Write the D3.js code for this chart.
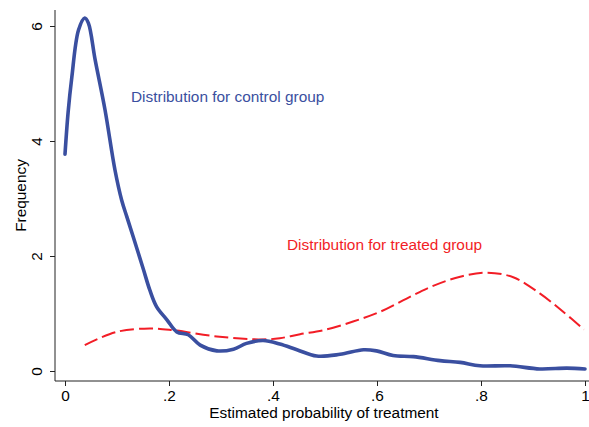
<!DOCTYPE html>
<html><head><meta charset="utf-8">
<script src="https://cdn.jsdelivr.net/npm/d3@7"></script>
<style>body{margin:0;background:#fff}svg{display:block}text{font-family:"Liberation Sans",Arial,sans-serif}</style>
</head><body>
<svg id="c" width="589" height="427"></svg>
<script>
const controlX = [0,0.006,0.013,0.026,0.038,0.045,0.058,0.077,0.096,0.109,0.119,0.131,0.151,0.163,0.176,0.196,0.215,0.237,0.26,0.292,0.324,0.349,0.381,0.413,0.446,0.484,0.529,0.574,0.599,0.631,0.67,0.721,0.76,0.798,0.856,0.913,0.965,1.0];
const controlY = [3.77,4.5,5.1,5.93,6.14,6.05,5.41,4.54,3.5,2.97,2.68,2.34,1.76,1.41,1.12,0.89,0.68,0.63,0.45,0.35,0.38,0.48,0.53,0.47,0.37,0.26,0.29,0.37,0.35,0.27,0.25,0.18,0.15,0.09,0.09,0.035,0.05,0.035];
const treatedX = [0.038,0.099,0.163,0.208,0.292,0.381,0.413,0.452,0.497,0.554,0.606,0.657,0.708,0.76,0.811,0.862,0.913,0.958,0.998];
const treatedY = [0.45,0.68,0.74,0.71,0.60,0.55,0.57,0.64,0.71,0.86,1.03,1.26,1.48,1.64,1.71,1.63,1.35,1.03,0.72];
const xTicks = [0,0.2,0.4,0.6,0.8,1];
const xTickLabels = ["0",".2",".4",".6",".8","1"];
const yTicks = [0,2,4,6];
const yTickLabels = ["0","2","4","6"];
const labels = {x:"Estimated probability of treatment", y:"Frequency", control:"Distribution for control group", treated:"Distribution for treated group"};

const svg = d3.select("#c");
const x = d3.scaleLinear().domain([0,1]).range([65,585]);
const y = d3.scaleLinear().domain([0,6]).range([371,26]);
const fs = 15.4;
const axisColor = "#222";

svg.append("line").attr("x1",55).attr("x2",589).attr("y1",381).attr("y2",381).attr("stroke",axisColor).attr("stroke-width",1);
svg.append("line").attr("x1",55).attr("x2",55).attr("y1",10).attr("y2",381).attr("stroke",axisColor).attr("stroke-width",1);

const xa = svg.append("g").attr("transform","translate(0,381)")
  .call(d3.axisBottom(x).tickValues(xTicks).tickSize(5).tickPadding(4).tickFormat((d,i)=>xTickLabels[i]));
xa.select(".domain").remove();
xa.selectAll("line").attr("stroke",axisColor);
xa.selectAll("text").attr("font-size",fs).attr("fill","#000").attr("font-family","Liberation Sans, Arial, sans-serif");

const ya = svg.append("g").attr("transform","translate(55,0)")
  .call(d3.axisLeft(y).tickValues(yTicks).tickSize(5).tickFormat((d,i)=>yTickLabels[i]));
ya.select(".domain").remove();
ya.selectAll("line").attr("stroke",axisColor);
ya.selectAll("text").remove();
ya.selectAll(".tick").append("text")
  .attr("transform","translate(-13,0) rotate(-90)")
  .attr("text-anchor","middle").attr("font-size",fs).attr("fill","#000")
  .attr("font-family","Liberation Sans, Arial, sans-serif")
  .text((d,i)=>yTickLabels[i]);

svg.append("text").attr("x",324).attr("y",418).attr("text-anchor","middle").attr("font-size",fs).attr("fill","#000").text(labels.x);
svg.append("text").attr("transform","translate(25.5,195.5) rotate(-90)").attr("text-anchor","middle").attr("font-size",fs).attr("fill","#000").text(labels.y);

const line = d3.line().x(d=>x(d[0])).y(d=>y(d[1])).curve(d3.curveCatmullRom.alpha(0.5));
const treated = treatedX.map((v,i)=>[v,treatedY[i]]);
const control = controlX.map((v,i)=>[v,controlY[i]]);

svg.append("path").attr("d",line(treated)).attr("fill","none").attr("stroke","#f21d26").attr("stroke-width",2).attr("stroke-dasharray","14,5");
svg.append("path").attr("d",line(control)).attr("fill","none").attr("stroke","#3a4fa0").attr("stroke-width",3.6).attr("stroke-linejoin","round").attr("stroke-linecap","round");

svg.append("text").attr("x",131).attr("y",101.5).attr("font-size",fs).attr("fill","#3a4fa0").text(labels.control);
svg.append("text").attr("x",287).attr("y",250).attr("font-size",fs).attr("fill","#f21d26").text(labels.treated);
</script>
</body></html>
